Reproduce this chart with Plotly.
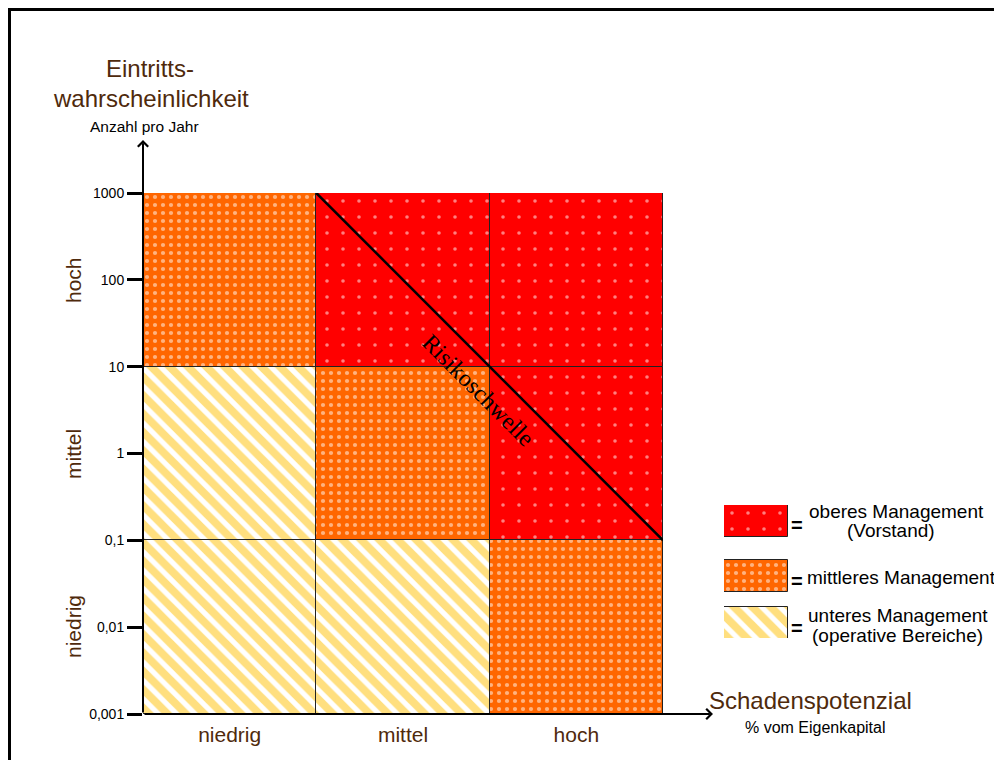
import plotly.graph_objects as go

# ---------------- data ----------------
x_categories = ["niedrig", "mittel", "hoch"]          # Schadenspotenzial
y_categories = ["niedrig", "mittel", "hoch"]          # Eintrittswahrscheinlichkeit
band_low = [0.001, 0.1, 10]
band_high = [0.1, 10, 1000]
y_tick_values = [0.001, 0.01, 0.1, 1, 10, 100, 1000]
y_tick_labels = ["0,001", "0,01", "0,1", "1", "10", "100", "1000"]
# management level per cell: rows = y band (niedrig..hoch), cols = x band
# 0 = unteres, 1 = mittleres, 2 = oberes
risk_matrix = [
    [0, 0, 1],
    [0, 1, 2],
    [1, 2, 2],
]
threshold_x = [1, 3]
threshold_y = [1000, 0.1]
legend_lines = [
    ["oberes Management", "(Vorstand)"],
    ["mittleres Management"],
    ["unteres Management", "(operative Bereiche)"],
]

# ---------------- styling ----------------
W, H = 1002, 760
OFF = 8  # page body margin
BROWN = "#4f2a0c"
SANS = "Liberation Sans, Arial, sans-serif"
SERIF = "Liberation Serif, Times New Roman, serif"

def px(x):
    return (x - OFF) / W

def py(y):
    return 1 - (y - OFF) / H

styles = {
    2: dict(color="#ff0000", pattern=dict(shape=".", fgcolor="white", size=16, solidity=0.04)),
    1: dict(color="#ff6600", pattern=dict(shape=".", fgcolor="white", size=8, solidity=0.22)),
    0: dict(color="white", pattern=dict(shape="\\", fgcolor="#ffbf00", size=13, solidity=0.6)),
}

fig = go.Figure()

for level in [0, 1, 2]:
    xs, bases, heights = [], [], []
    for r in range(3):
        for c in range(3):
            if risk_matrix[r][c] == level:
                xs.append(c + 0.5)
                bases.append(band_low[r])
                heights.append(band_high[r] - band_low[r])
    st = styles[level]
    fig.add_trace(go.Bar(
        x=xs, y=heights, base=bases, width=1,
        marker=dict(color=st["color"], pattern=st["pattern"],
                    line=dict(color="#222222", width=1)),
        xaxis="x", yaxis="y", showlegend=False, hoverinfo="skip",
    ))

# threshold line
fig.add_trace(go.Scatter(
    x=threshold_x, y=threshold_y, mode="lines",
    line=dict(color="black", width=2.5), xaxis="x", yaxis="y",
    showlegend=False, hoverinfo="skip",
))

# legend boxes (second axes in page pixel units)
legend_top = [505, 560, 607]
for i, level in enumerate([2, 1, 0]):
    st = styles[level]
    fig.add_trace(go.Bar(
        x=[0.5], y=[32], base=[legend_top[i]], width=1,
        marker=dict(color=st["color"], pattern=st["pattern"],
                    line=dict(color="#222222", width=1)),
        xaxis="x2", yaxis="y2", showlegend=False, hoverinfo="skip",
    ))

annotations = []

def txt(text, x, y, size, color="black", font=SANS, angle=0, bold=False):
    annotations.append(dict(
        text=("<b>%s</b>" % text) if bold else text,
        x=px(x), y=py(y), xref="paper", yref="paper",
        showarrow=False, textangle=angle, xanchor="center", yanchor="middle",
        font=dict(size=size, color=color, family=font),
    ))

# titles
txt("Eintritts-", 150, 68, 24, BROWN)
txt("wahrscheinlichkeit", 151, 98, 24, BROWN)
txt("Anzahl pro Jahr", 144, 127, 15.5)
txt("Schadenspotenzial", 810, 700, 24, BROWN)
txt("% vom Eigenkapital", 815, 727, 16)

# y band labels
for name, yc in zip(y_categories, [627, 454, 280]):
    txt(name, 73, yc, 21, BROWN, angle=-90)

# threshold label
txt("Risikoschwelle", 478, 390, 24, "black", SERIF, angle=45)

# legend texts
eq_y = [525, 581, 628]
for yv in eq_y:
    txt("=", 797, yv, 20, bold=True)
txt(legend_lines[0][0], 896, 511, 19)
txt(legend_lines[0][1], 891, 530, 19)
txt(legend_lines[1][0], 901, 577, 19)
txt(legend_lines[2][0], 898, 615, 19)
txt(legend_lines[2][1], 897, 635, 19)

# axis arrows
annotations.append(dict(
    x=px(143), y=py(140), xref="paper", yref="paper", ax=0, ay=574,
    text="", showarrow=True, arrowhead=4, arrowwidth=2, arrowsize=1,
    arrowcolor="black", standoff=0, startstandoff=0,
))
annotations.append(dict(
    x=px(713), y=py(714), xref="paper", yref="paper", ax=-570, ay=0,
    text="", showarrow=True, arrowhead=4, arrowwidth=2, arrowsize=1,
    arrowcolor="black", standoff=0, startstandoff=0,
))

fig.update_layout(
    width=W, height=H,
    margin=dict(l=0, r=0, t=0, b=0, autoexpand=False),
    paper_bgcolor="white", plot_bgcolor="white",
    barmode="overlay", bargap=0,
    xaxis=dict(domain=[px(143), px(663)], range=[0, 3], automargin=False,
               tickvals=[0.5, 1.5, 2.5], ticktext=x_categories,
               tickfont=dict(size=21, color=BROWN, family=SANS),
               ticklabelstandoff=6,
               showgrid=False, zeroline=False, showline=False, ticks=""),
    yaxis=dict(domain=[py(714), py(193)], type="log", range=[-3, 3], automargin=False,
               tickvals=y_tick_values, ticktext=y_tick_labels,
               tickfont=dict(size=14, color="black", family=SANS),
               ticks="outside", ticklen=15, tickwidth=3, tickcolor="black",
               showgrid=False, zeroline=False, showline=False),
    xaxis2=dict(domain=[px(724), px(788)], range=[0, 1], visible=False, automargin=False),
    yaxis2=dict(domain=[py(638), py(505)], range=[638, 505], visible=False, automargin=False),
    annotations=annotations,
    shapes=[dict(type="rect", xref="paper", yref="paper",
                 x0=px(9.5), x1=1.2, y0=-0.2, y1=py(9.5),
                 line=dict(color="black", width=3))],
)

fig.write_html("out.html")
